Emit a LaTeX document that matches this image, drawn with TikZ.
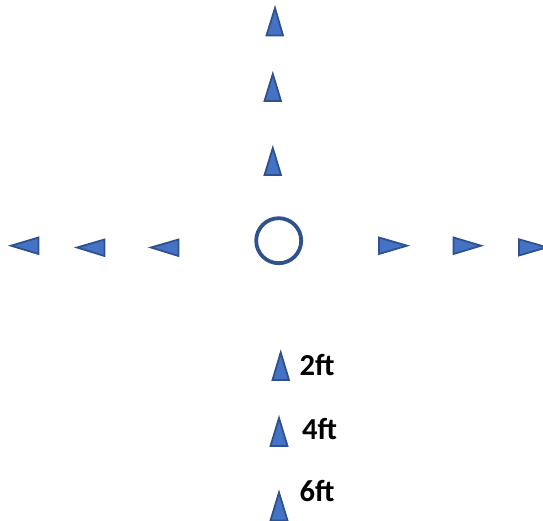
\documentclass[tikz,border=0pt]{standalone}
\usepackage{fontspec}
\setmainfont{Carlito}
\definecolor{conefill}{HTML}{4472C4}
\definecolor{coneline}{HTML}{2F528F}
\begin{document}
\begin{tikzpicture}[x=1pt,y=-1pt,
  cone/.style={fill=conefill,draw=coneline,line width=1.8pt,line join=miter},
  ring/.style={draw=coneline,line width=3.8pt},
  dist/.style={font=\fontsize{30.5pt}{32pt}\selectfont\bfseries,inner sep=0pt,anchor=base west}]
\useasboundingbox (0,0) rectangle (543,521);
\clip (0,0) rectangle (543,521);
% top cones
\draw[cone] (275,8) -- (283,35.5) -- (266.5,35.5) -- cycle;
\draw[cone] (272.8,74) -- (281,101) -- (264.5,101) -- cycle;
\draw[cone] (272.8,148) -- (281,175) -- (264.5,175) -- cycle;
% left cones
\draw[cone] (11,245.7) -- (38.5,237.5) -- (38.5,254) -- cycle;
\draw[cone] (77,247.5) -- (104.5,239.5) -- (104.5,256) -- cycle;
\draw[cone] (151,247.5) -- (178.5,239.5) -- (178.5,256) -- cycle;
% right cones
\draw[cone] (407,245.7) -- (379,237.5) -- (379,254) -- cycle;
\draw[cone] (481,245.7) -- (453.5,237.5) -- (453.5,254) -- cycle;
\draw[cone] (547,247.3) -- (519,239.3) -- (519,255.5) -- cycle;
% centre ring
\draw[ring] (278.7,240.7) circle[radius=22.5];
% bottom cones
\draw[cone] (280.7,352.5) -- (289,380) -- (272.5,380) -- cycle;
\draw[cone] (279,418) -- (287.5,446) -- (270.5,446) -- cycle;
\draw[cone] (279,492.5) -- (287.5,520.5) -- (270.5,520.5) -- cycle;
% labels
\node[dist] (l2) at (299.5,375.3) {2ft};
\node[dist] (l4) at (302,439.3) {4ft};
\node[dist] (l6) at (299.5,501.7) {6ft};
\end{tikzpicture}
\end{document}
